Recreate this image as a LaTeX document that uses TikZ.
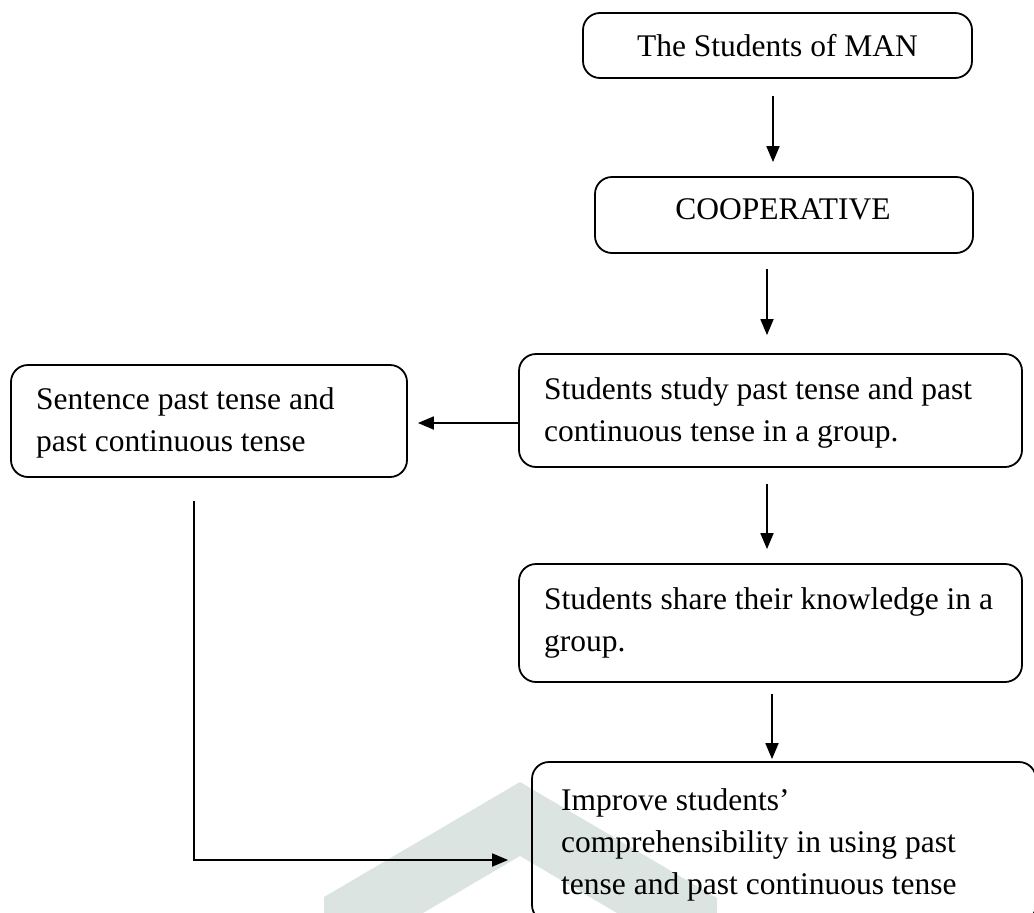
\documentclass[tikz,border=0pt]{standalone}
\usepackage{fontspec}
\setmainfont{Liberation Serif}
\usetikzlibrary{arrows.meta}
\definecolor{wmark}{RGB}{220,228,225}
\begin{document}
\begin{tikzpicture}[x=1pt,y=-1pt,
  flowbox/.style={draw=black, line width=1.8pt, rounded corners=17pt, inner sep=0pt},
  boxtext/.style={inner sep=0pt, font=\fontsize{31.5pt}{42pt}\selectfont, text width=490pt, align=flush left},
  boxline/.style={inner sep=0pt, font=\fontsize{31.5pt}{42pt}\selectfont},
  flowarrow/.style={line width=1.8pt, -{Triangle[length=16pt,width=13pt]}}
]
\clip (0,0) rectangle (1034,913);

% chevron mark in the background
\fill[wmark] (324,913) -- (324,897) -- (520,782) -- (717,898) -- (717,913)
  -- (617,913) -- (520,856) -- (423,913) -- cycle;

% boxes
\node[flowbox, minimum width=389pt, minimum height=65pt]  (b1) at (777.5,45.5) {};
\node[flowbox, minimum width=378pt, minimum height=76pt]  (b2) at (784,215) {};
\node[flowbox, minimum width=503pt, minimum height=113pt] (b3) at (770.5,410.5) {};
\node[flowbox, minimum width=396pt, minimum height=112pt] (b4) at (209,421) {};
\node[flowbox, minimum width=503pt, minimum height=118pt] (b5) at (770.5,623) {};
\node[flowbox, minimum width=504pt, minimum height=160pt] (b6) at (784,842) {};

% texts
\node[boxline, anchor=base] (t1) at (777.5,56) {The Students of MAN};
\node[boxline, anchor=base] (t2) at (783,219) {COOPERATIVE};
\node[boxtext, anchor=base west] (t3) at (544,399)
  {Students study past tense and past\\continuous tense in a group.};
\node[boxtext, anchor=base west] (t4) at (36,409)
  {Sentence past tense and\\past continuous tense};
\node[boxtext, anchor=base west] (t5) at (544,609)
  {Students share their knowledge in a\\group.};
\node[boxtext, anchor=base west] (t6) at (561,810)
  {Improve students’\\comprehensibility in using past\\tense and past continuous tense};

% connector guides
\coordinate (x1) at (773,0);
\coordinate (x2) at (767,0);
\coordinate (x4) at (772,0);
\coordinate (side) at (0,423);
\coordinate (elbow) at (194,860);

% connectors
\draw[flowarrow, shorten <=17pt, shorten >=14pt] (b1.south -| x1) -- (b2.north -| x1);
\draw[flowarrow, shorten <=15pt, shorten >=18pt] (b2.south -| x2) -- (b3.north -| x2);
\draw[flowarrow, shorten <=16pt, shorten >=14pt] (b3.south -| x2) -- (b5.north -| x2);
\draw[flowarrow, shorten <=11pt, shorten >=2pt]  (b5.south -| x4) -- (b6.north -| x4);
\draw[flowarrow, shorten >=10pt] (b3.west |- side) -- (b4.east |- side);
\draw[flowarrow, shorten <=23pt, shorten >=23pt] (b4.south -| elbow) -- (elbow) -- (b6.west |- elbow);
\end{tikzpicture}
\end{document}
